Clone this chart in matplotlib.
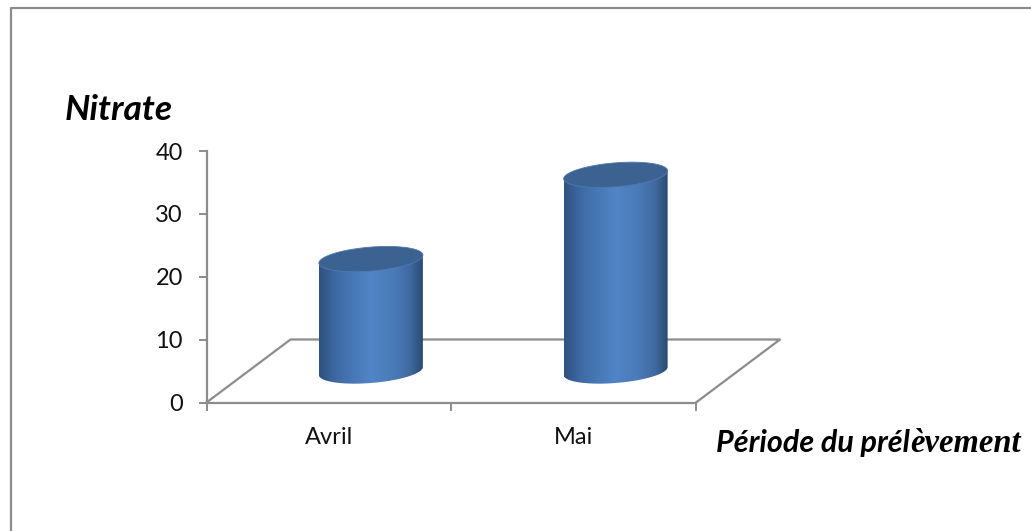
import matplotlib
matplotlib.use("Agg")
import matplotlib.pyplot as plt
import numpy as np
from matplotlib.colors import LinearSegmentedColormap
from matplotlib.patches import Polygon

categories = ["Avril", "Mai"]
nitrate = [17.8, 31.2]
y_ticks = [0, 10, 20, 30, 40]

W, H = 1031, 531
GREY = "#8c8c8c"

# floor depth and cylinder shape in data units (x in categories, y in nitrate)
DEPTH_X = 84 / 244.75
DEPTH_Y = 63 / 6.2875
RX = 52 / 244.75
RY = 12 / 6.2875
TILT = 4 / 6.2875


def fx(px):
    return px / W


def fy(py):
    return 1 - py / H


fig = plt.figure(figsize=(W / 100, H / 100), dpi=100)
ax = fig.add_axes([fx(206.5), fy(402.5), 489.5 / W, 251.5 / H])
ax.patch.set_alpha(0)
for name in ["top", "right"]:
    ax.spines[name].set_visible(False)
for name in ["left", "bottom"]:
    ax.spines[name].set_color(GREY)
    ax.spines[name].set_linewidth(1.6)

ax.set_yticks(y_ticks)
ax.set_xticks([0, 1, 2])
ax.set_xticklabels([])
ax.tick_params(axis="both", color=GREY, width=1.4, length=6)
ax.tick_params(axis="y", labelsize=17, pad=11)
for lab in ax.get_yticklabels():
    lab.set_fontfamily("Lato")
    lab.set_color("#111111")

# floor outline behind the cylinders
ax.plot([0, DEPTH_X, 2 + DEPTH_X, 2], [0, DEPTH_Y, DEPTH_Y, 0],
        color=GREY, lw=1.6, clip_on=False, zorder=1)

body_cmap = LinearSegmentedColormap.from_list(
    "body", [(0, "#2f5280"), (0.18, "#3f6ca6"), (0.5, "#5185c7"),
             (0.72, "#4a7ab8"), (0.88, "#3f699f"), (1, "#2b4a72")])
gradient = np.linspace(0, 1, 256).reshape(1, -1)

t = np.linspace(0, 2 * np.pi, 181)
arc = np.linspace(np.pi, 2 * np.pi, 91)
for i, value in enumerate(nitrate):
    cx = i + 0.5 + DEPTH_X / 2
    base = DEPTH_Y / 2

    # side wall: front arc of the base, then straight up to the top rim
    xs = cx + RX * np.cos(arc)
    ys = base + RY * np.sin(arc) + TILT * np.cos(arc)
    outline = np.column_stack([
        np.concatenate([xs, [cx + RX, cx - RX]]),
        np.concatenate([ys, [base + value + TILT, base + value - TILT]]),
    ])
    wall = Polygon(outline, closed=True, facecolor="none", edgecolor="none")
    ax.add_patch(wall)
    im = ax.imshow(gradient, cmap=body_cmap, aspect="auto", zorder=3,
                   extent=[cx - RX, cx + RX, 0, 40])
    im.set_clip_path(wall)

    rim = np.column_stack([cx + RX * np.cos(t),
                           base + value + RY * np.sin(t) + TILT * np.cos(t)])
    ax.add_patch(Polygon(rim, closed=True, facecolor="#3b6291", edgecolor="#4f7aad",
                         lw=0.6, zorder=4, clip_on=False))

ax.set_xlim(0, 2)
ax.set_ylim(0, 40)

for i, name in enumerate(categories):
    ax.annotate(name, xy=(i + 0.5, 0), xytext=(0, -25), textcoords="offset points",
                ha="center", va="center", fontsize=17, family="Lato",
                color="#111111", annotation_clip=False)

fig.add_artist(plt.Line2D([fx(11), fx(11), 1], [0, fy(8), fy(8)], color=GREY, lw=1.6))

fig.text(fx(65), fy(120), "Nitrate", fontsize=25.5, family="Lato",
         weight="bold", style="italic", color="black", va="baseline")

part = fig.text(fx(716), fy(452), "Période du prél", fontsize=22, family="Lato",
                weight="bold", style="italic", color="black", va="baseline")
fig.canvas.draw()
end = part.get_window_extent().x1
fig.text(end / W, fy(452), "èvement", fontsize=23.5, family="Liberation Serif",
         weight="bold", style="italic", color="black", va="baseline")

fig.savefig("out.png", dpi=100)
